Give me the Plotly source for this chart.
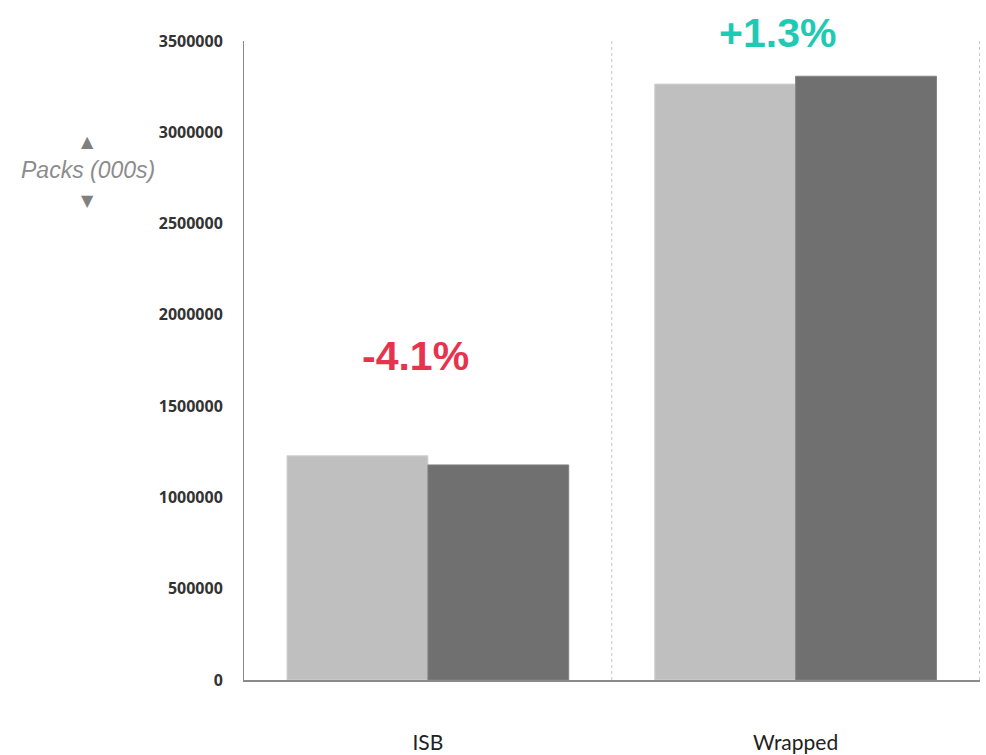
import plotly.graph_objects as go

categories = ["ISB", "Wrapped"]
prior_period = [1228000, 3264000]
current_period = [1178000, 3307000]
y_ticks = [0, 500000, 1000000, 1500000, 2000000, 2500000, 3000000, 3500000]

LIGHT = "#bfbfbf"
DARK = "#707070"
AXIS = "#8a8a8a"

fig = go.Figure()
fig.add_trace(go.Bar(
    x=categories, y=prior_period, name="Prior",
    marker=dict(color=LIGHT, line=dict(color="#d0d0d0", width=1)),
))
fig.add_trace(go.Bar(
    x=categories, y=current_period, name="Current",
    marker=dict(color=DARK, line=dict(color="#858585", width=1)),
))

# dotted separators at category boundaries
for xb in [0.5, 1.5]:
    fig.add_shape(type="line", xref="x", yref="paper", x0=xb, x1=xb, y0=0, y1=1,
                  line=dict(color="#c8c8c8", width=1, dash="dot"), layer="below")

# percentage change labels above each pair
change_colors = ["#e8334f", "#1fcab5"]
label_pos = [(-0.035, max(prior_period[0], current_period[0]) + 544000, 0),
             (1 - 0.049, y_ticks[-1], 8)]
for i, cat in enumerate(categories):
    pct = (current_period[i] / prior_period[i] - 1) * 100
    fig.add_annotation(
        x=label_pos[i][0], y=label_pos[i][1], yshift=label_pos[i][2], xref="x", yref="y",
        text=f"<b>{pct:+.1f}%</b>", showarrow=False,
        font=dict(family="Liberation Sans, Arial", size=41, color=change_colors[i]),
        yanchor="middle",
    )

# y-axis title with arrows
TITLE_X = -0.212
fig.add_annotation(xref="paper", yref="paper", x=TITLE_X, y=0.798, text="<i>Packs (000s)</i>",
                   showarrow=False, font=dict(family="Liberation Sans, Arial", size=23, color="#8c8c8c"),
                   xanchor="center", yanchor="middle")
fig.add_annotation(xref="paper", yref="paper", x=TITLE_X, y=0.843, text="▲",
                   showarrow=False, font=dict(family="DejaVu Sans", size=16, color="#808080"),
                   xanchor="center", yanchor="middle")
fig.add_annotation(xref="paper", yref="paper", x=TITLE_X, y=0.751, text="▼",
                   showarrow=False, font=dict(family="DejaVu Sans", size=16, color="#808080"),
                   xanchor="center", yanchor="middle")

fig.update_layout(
    width=986, height=755,
    margin=dict(l=244, r=6, t=41, b=75),
    paper_bgcolor="white", plot_bgcolor="white",
    barmode="group", bargap=0.234, bargroupgap=0,
    showlegend=False,
    xaxis=dict(
        showgrid=False, showline=True, linecolor=AXIS, linewidth=2,
        ticks="", ticklabelstandoff=43, automargin=False,
        tickfont=dict(family="Lato, Open Sans", size=21, color="#222"),
    ),
    yaxis=dict(
        range=[0, 3500000], tickvals=y_ticks, ticktext=[str(v) for v in y_ticks],
        showgrid=False, zeroline=False, showline=True, linecolor=AXIS, linewidth=1,
        ticks="", ticklabelstandoff=17, automargin=False,
        tickfont=dict(family="Open Sans", size=16, color="#333", weight="bold"),
    ),
)

fig.write_html("out.html")
